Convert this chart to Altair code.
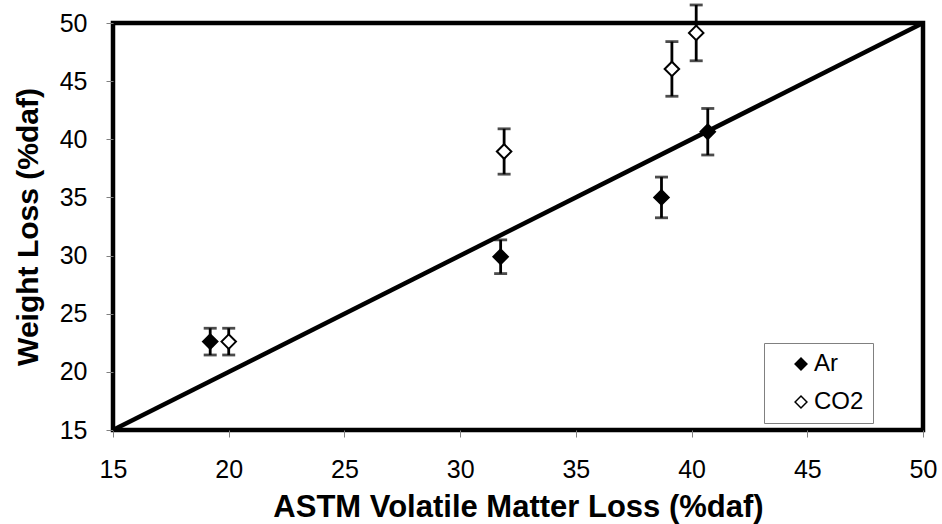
import altair as alt
import pandas as pd

# Data
ar_x = [19.2, 31.75, 38.7, 40.7]
ar_y = [22.6, 29.9, 35.0, 40.65]
ar_err = [1.15, 1.45, 1.75, 2.0]

co2_x = [20.0, 31.9, 39.15, 40.2]
co2_y = [22.6, 38.95, 46.05, 49.15]
co2_err = [1.15, 1.95, 2.35, 2.4]

gases = ["Ar", "CO2"]
ticks = [15, 20, 25, 30, 35, 40, 45, 50]

rows = []
for g, xs, ys, es in [("Ar", ar_x, ar_y, ar_err), ("CO2", co2_x, co2_y, co2_err)]:
    for x, y, e in zip(xs, ys, es):
        rows.append({"gas": g, "x": x, "y": y, "lo": y - e, "hi": y + e})
df = pd.DataFrame(rows)

diag = pd.DataFrame({"x": [15, 50], "y": [15, 50]})

FONT = "Liberation Sans"

xscale = alt.Scale(domain=[15, 50], nice=False, zero=False)
yscale = alt.Scale(domain=[15, 50], nice=False, zero=False)

xaxis = alt.Axis(
    values=ticks, title="ASTM Volatile Matter Loss (%daf)", grid=False, domain=False,
    tickSize=7, tickColor="#808080", tickWidth=1, labelFontSize=25, labelFont=FONT,
    labelColor="black", labelPadding=20, titleFont=FONT, titleFontSize=31,
    titleFontWeight="bold", titleColor="black", titleBaseline="alphabetic", titleY=86,
    labelFlush=False,
)
yaxis = alt.Axis(
    values=ticks, title="Weight Loss (%daf)", grid=False, domain=False,
    tickSize=7, tickColor="#808080", tickWidth=1, labelFontSize=25, labelFont=FONT,
    labelColor="black", labelPadding=19, titleFont=FONT, titleFontSize=30,
    titleFontWeight="bold", titleColor="black", titleBaseline="alphabetic", titleX=-76,
    labelFlush=False,
)

line = alt.Chart(diag).mark_line(color="black", strokeWidth=4.5).encode(
    x=alt.X("x:Q", scale=xscale, axis=xaxis),
    y=alt.Y("y:Q", scale=yscale, axis=yaxis),
)

base = alt.Chart(df)

bars = base.mark_rule(color="black", strokeWidth=2.8).encode(
    x="x:Q", y="lo:Q", y2="hi:Q"
)
cap_lo = base.mark_tick(color="black", size=13, thickness=2.8, orient="horizontal").encode(
    x="x:Q", y="lo:Q"
)
cap_hi = base.mark_tick(color="black", size=13, thickness=2.8, orient="horizontal").encode(
    x="x:Q", y="hi:Q"
)

points = base.mark_point(
    shape="diamond", filled=True, size=210, stroke="black", strokeWidth=2, opacity=1
).encode(
    x="x:Q",
    y="y:Q",
    fill=alt.Fill(
        "gas:N",
        scale=alt.Scale(domain=gases, range=["black", "white"]),
        legend=alt.Legend(
            title=None, orient="none", legendX=651, legendY=320,
            symbolType="diamond", symbolSize=140, symbolStrokeColor="black",
            symbolStrokeWidth=1.5, labelFont=FONT, labelFontSize=24, labelColor="black",
            labelOffset=1, rowPadding=14, padding=9, symbolOffset=16,
            strokeColor="#808080", fillColor="white", cornerRadius=0,
            labelExpr="datum.label + '\u2002'",
        ),
    ),
)

chart = (
    alt.layer(line, bars, cap_lo, cap_hi, points)
    .properties(
        width=810, height=407,
        autosize=alt.AutoSizeParams(type="none"),
        padding={"left": 113, "top": 23, "right": 19, "bottom": 94},
        background="white",
    )
    .configure_view(stroke="black", strokeWidth=4.5)
)

chart.save("out.html", embed_options={"renderer": "svg", "actions": False})
